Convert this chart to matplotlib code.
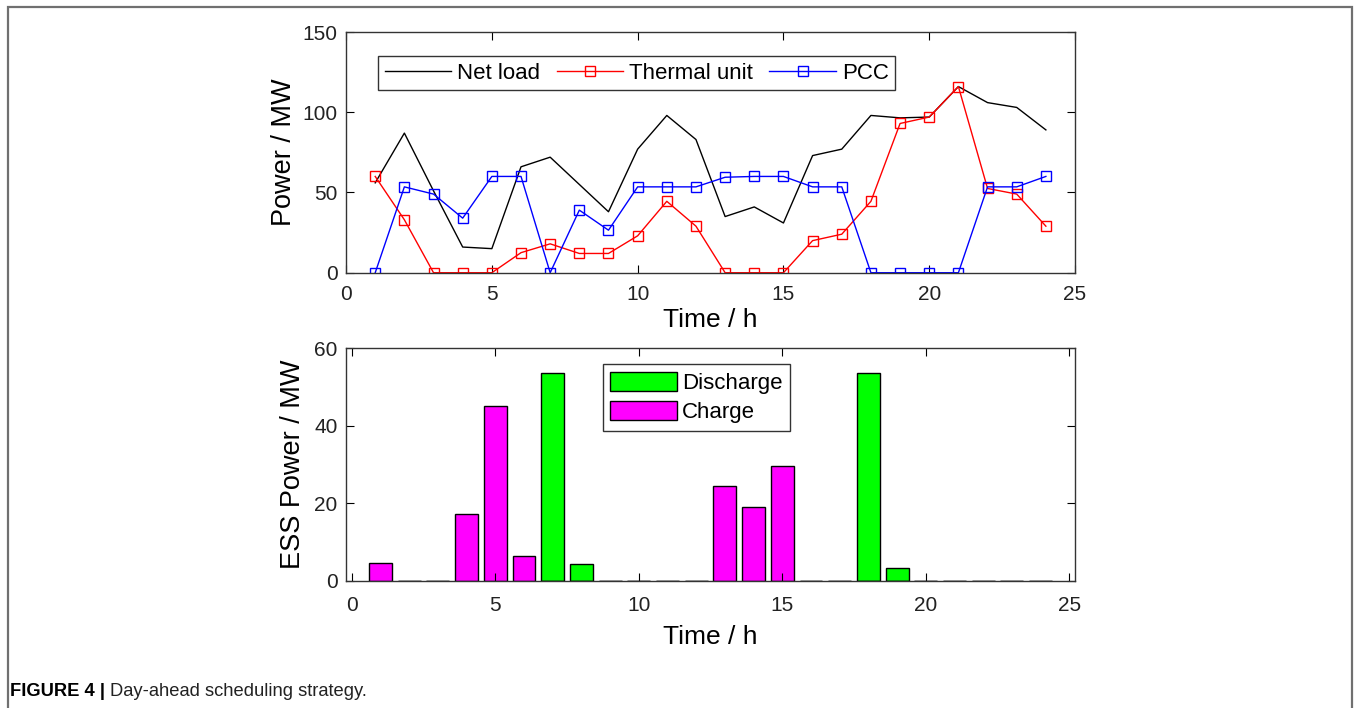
import matplotlib
matplotlib.use("Agg")
import matplotlib.pyplot as plt
import numpy as np

plt.rcParams['font.family'] = ['Liberation Sans', 'DejaVu Sans']

hours = np.arange(1, 25)

net_load = [56, 87, 51, 16, 15, 66, 72, 55, 38, 77, 98, 83,
            35, 41, 31, 73, 77, 98, 96.5, 97, 116, 106, 103, 89]
thermal = [60, 33, 0, 0, 0, 12.5, 18, 12, 12, 23, 44.5, 29,
           0, 0, 0, 20, 24, 44.5, 93, 97, 116, 52.5, 49, 29]
pcc = [0, 53.5, 49, 34, 60, 60, 0, 39, 26.5, 53.5, 53.5, 53.5,
       59.5, 60, 60, 53.5, 53.5, 0, 0, 0, 0, 53.5, 53.5, 60]

discharge = [0, 0, 0, 0, 0, 0, 53.5, 4.4, 0, 0, 0, 0,
             0, 0, 0, 0, 0, 53.5, 3.3, 0, 0, 0, 0, 0]
charge = [4.5, 0, 0, 17.2, 45.1, 6.4, 0, 0, 0, 0, 0, 0,
          24.4, 18.9, 29.5, 0, 0, 0, 0, 0, 0, 0, 0, 0]

tick_col = '#222222'

fig = plt.figure(figsize=(13.56, 7.08), dpi=100)

# grey frame round the figure
fig.patches.append(plt.Rectangle((8 / 1356, -0.05), 1344 / 1356, 1.05 - 7 / 708,
                                 transform=fig.transFigure, fill=False,
                                 edgecolor='#707070', linewidth=1.6))


def style_axes(ax, xpad):
    ax.tick_params(direction='in', top=True, right=True, length=5.5,
                   width=0.8, labelsize=15, labelcolor=tick_col, pad=6)
    ax.tick_params(axis='x', pad=xpad)
    for s in ax.spines.values():
        s.set_linewidth(1.0)
        s.set_color('#333333')


# top panel
ax1 = fig.add_axes([0.2552, 0.6148, 0.5376, 0.3400])
ax1.plot(hours, net_load, color='black', lw=1.0, label='Net load')
ax1.plot(hours, thermal, color='red', lw=1.0, marker='s', ms=6.5,
         mfc='none', mew=1.0, label='Thermal unit')
ax1.plot(hours, pcc, color='blue', lw=1.0, marker='s', ms=6.5,
         mfc='none', mew=1.0, label='PCC')
ax1.set_xlim(0, 25)
ax1.set_ylim(0, 150)
ax1.set_xticks([0, 5, 10, 15, 20, 25])
ax1.set_yticks([0, 50, 100, 150])
ax1.set_xlabel('Time / h', fontsize=19, labelpad=3)
ax1.set_ylabel('Power / MW', fontsize=19.5, labelpad=4)
style_axes(ax1, 9)
leg1 = ax1.legend(loc='upper left', bbox_to_anchor=(0.044, 0.9), ncol=3,
                  fontsize=16, frameon=True, fancybox=False, borderaxespad=0,
                  handlelength=3.0, columnspacing=0.75, handletextpad=0.25,
                  borderpad=0.3)
leg1.get_frame().set_edgecolor('black')
leg1.get_frame().set_linewidth(1.0)

# bottom panel
ax2 = fig.add_axes([0.2552, 0.1798, 0.5376, 0.3283])
ax2.bar(hours, discharge, width=0.8, color='#00ff00', edgecolor='black',
        linewidth=1.0, label='Discharge')
ax2.bar(hours, charge, width=0.8, color='#ff00ff', edgecolor='black',
        linewidth=1.0, label='Charge')
ax2.set_xlim(-0.2, 25.2)
ax2.set_ylim(0, 60)
ax2.set_xticks([0, 5, 10, 15, 20, 25])
ax2.set_yticks([0, 20, 40, 60])
ax2.set_xlabel('Time / h', fontsize=19, labelpad=7)
ax2.set_ylabel('ESS Power / MW', fontsize=19.5, labelpad=6)
style_axes(ax2, 11)
leg2 = ax2.legend(loc='upper left', bbox_to_anchor=(0.352, 0.931),
                  fontsize=16, frameon=True, fancybox=False, borderaxespad=0,
                  handlelength=3.0, handleheight=0.95, handletextpad=0.22,
                  labelspacing=0.3, borderpad=0.35)
leg2.get_frame().set_edgecolor('black')
leg2.get_frame().set_linewidth(1.0)

# caption: bold part, then the rest placed just after it
cap_y = 1 - 691 / 708
t1 = fig.text(10 / 1356, cap_y, 'FIGURE 4 |', fontsize=13.2,
              fontweight='bold', va='center', ha='left')
renderer = fig.canvas.get_renderer()
bb = t1.get_window_extent(renderer=renderer)
fig.text((bb.x1 + 5) / 1356, cap_y, 'Day-ahead scheduling strategy.',
         fontsize=13.2, va='center', ha='left', color='#222222')

fig.savefig('out.png', dpi=100)
